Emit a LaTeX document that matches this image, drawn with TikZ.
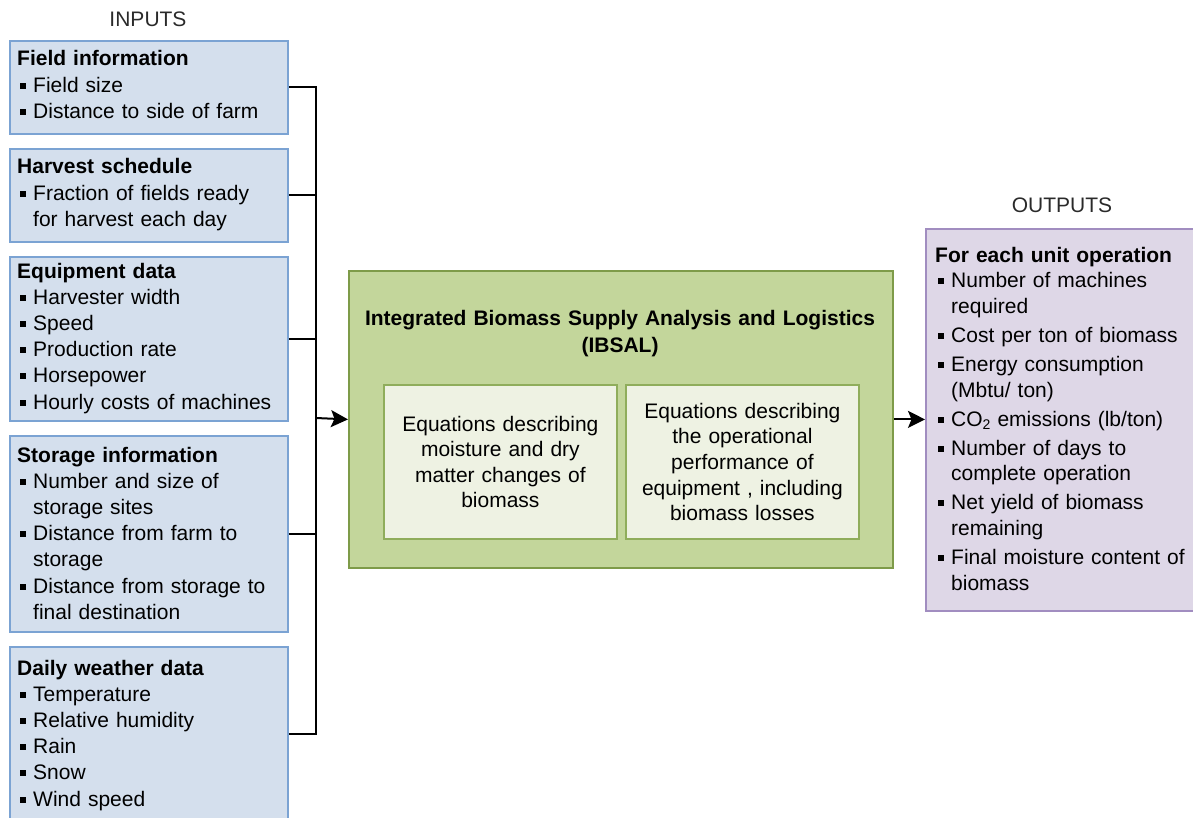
\documentclass[tikz,border=0pt]{standalone}
\usepackage{fontspec}
\setmainfont{Liberation Sans}
\usetikzlibrary{arrows.meta}
\definecolor{inFill}{HTML}{D4DFED}
\definecolor{inLine}{HTML}{7BA3D3}
\definecolor{gFill}{HTML}{C3D69B}
\definecolor{gLine}{HTML}{7E9B49}
\definecolor{iFill}{HTML}{EEF2E3}
\definecolor{iLine}{HTML}{8FAD5B}
\definecolor{oFill}{HTML}{DED7E7}
\definecolor{oLine}{HTML}{A18DC0}
\definecolor{labText}{HTML}{2A2A2A}
\newcommand\bulsq{\makebox[16pt][l]{\hspace*{3pt}\rule[3.5pt]{6pt}{6pt}}}
\newcommand\itm[1]{\par\prevdepth=\dp\strutbox\noindent\bulsq\parbox[t]{265pt}{\raggedright #1\strut}}
\newcommand\oitm[1]{\par\vspace{3.3pt}\itm{#1}}
\newcommand\hdr[1]{\textbf{#1}\strut}
\tikzset{
  x=1pt, y=-1pt,
  txtfont/.style={font=\fontsize{21}{26.2}\selectfont},
  inbox/.style={draw=inLine, fill=inFill, line width=1.8pt, anchor=north west,
    minimum width=278pt, inner sep=0pt},
  greenbox/.style={draw=gLine, fill=gFill, line width=1.8pt, anchor=north west,
    minimum width=544pt, minimum height=297pt, inner sep=0pt},
  eqbox/.style={draw=iLine, fill=iFill, line width=1.8pt, anchor=north west,
    minimum width=233pt, minimum height=154pt, inner sep=0pt, text width=225pt,
    align=center, font=\fontsize{21}{25.6}\selectfont},
  outbox/.style={draw=oLine, fill=oFill, line width=1.8pt, anchor=north west,
    minimum width=290pt, minimum height=382pt, inner sep=0pt},
  listtxt/.style={txtfont, anchor=base west, text width=290pt, align=left, inner sep=0pt},
  outtxt/.style={font=\fontsize{21}{25.7}\selectfont, anchor=base west, text width=280pt,
    align=left, inner sep=0pt},
  titletxt/.style={font=\fontsize{21}{27}\selectfont\bfseries, anchor=base,
    text width=540pt, align=center, inner sep=0pt},
  lab/.style={font=\fontsize{21}{26}\selectfont, text=labText, anchor=base, inner sep=0pt},
  conn/.style={line width=2pt, draw=black},
  arr/.style={conn, -{Stealth[length=17pt,width=17pt,inset=3.5pt]}}
}
\begin{document}
\begin{tikzpicture}
\useasboundingbox (0,0) rectangle (1193,818);
\clip (0,0) rectangle (1193,818);

% labels
\node[lab] (inlab) at (148,27) {INPUTS};
\node[lab] (outlab) at (1062,213) {OUTPUTS};

% input boxes
\node[inbox, minimum height=93pt] (b1) at (9,40) {};
\node[inbox, minimum height=93pt] (b2) at (9,148) {};
\node[inbox, minimum height=164pt] (b3) at (9,256) {};
\node[inbox, minimum height=196pt] (b4) at (9,435) {};
\node[inbox, minimum height=174pt] (b5) at (9,646) {};

\node[listtxt] (t1) at (17,66) {\hdr{Field information}
  \itm{Field size}
  \itm{Distance to side of farm}};
\node[listtxt] (t2) at (17,174) {\hdr{Harvest schedule}
  \itm{Fraction of fields ready\\for harvest each day}};
\node[listtxt] (t3) at (17,278) {\hdr{Equipment data}
  \itm{Harvester width}
  \itm{Speed}
  \itm{Production rate}
  \itm{Horsepower}
  \itm{Hourly costs of machines}};
\node[listtxt] (t4) at (17,462) {\hdr{Storage information}
  \itm{Number and size of\\storage sites}
  \itm{Distance from farm to\\storage}
  \itm{Distance from storage to\\final destination}};
\node[listtxt] (t5) at (17,675) {\hdr{Daily weather data}
  \itm{Temperature}
  \itm{Relative humidity}
  \itm{Rain}
  \itm{Snow}
  \itm{Wind speed}};

% central model
\node[greenbox] (green) at (348,270) {};
\node[titletxt] (gtitle) at (620,325) {Integrated Biomass Supply Analysis and Logistics\\(IBSAL)};
\node[eqbox] (eq1) at (383,384) {Equations describing\\moisture and dry\\matter changes of\\biomass};
\node[eqbox] (eq2) at (625,384) {Equations describing\\the operational\\performance of\\equipment , including\\biomass losses};

% output box
\node[outbox] (out) at (925,228) {};
\node[outtxt] (tout) at (935,262) {\hdr{For each unit operation}
  \itm{Number of machines\\required}
  \oitm{Cost per ton of biomass}
  \oitm{Energy consumption\\(Mbtu/ ton)}
  \oitm{CO\raisebox{-3pt}{\fontsize{14}{14}\selectfont 2} emissions (lb/ton)}
  \oitm{Number of days to\\complete operation}
  \oitm{Net yield of biomass\\remaining}
  \oitm{Final moisture content of\\biomass}};

% connectors
\coordinate (bus) at (316,418);
\draw[conn] (b1.east) -- (b1.east -| bus) -- (b5.east -| bus) -- (b5.east);
\draw[conn] (b2.east) -- (b2.east -| bus);
\draw[conn] (b3.east) -- (b3.east -| bus);
\draw[conn] (b4.east) -- (b4.east -| bus);
\draw[arr] (bus) -- (green.west);
\draw[arr] (green.east) -- (out.west |- green.east);
\end{tikzpicture}
\end{document}
